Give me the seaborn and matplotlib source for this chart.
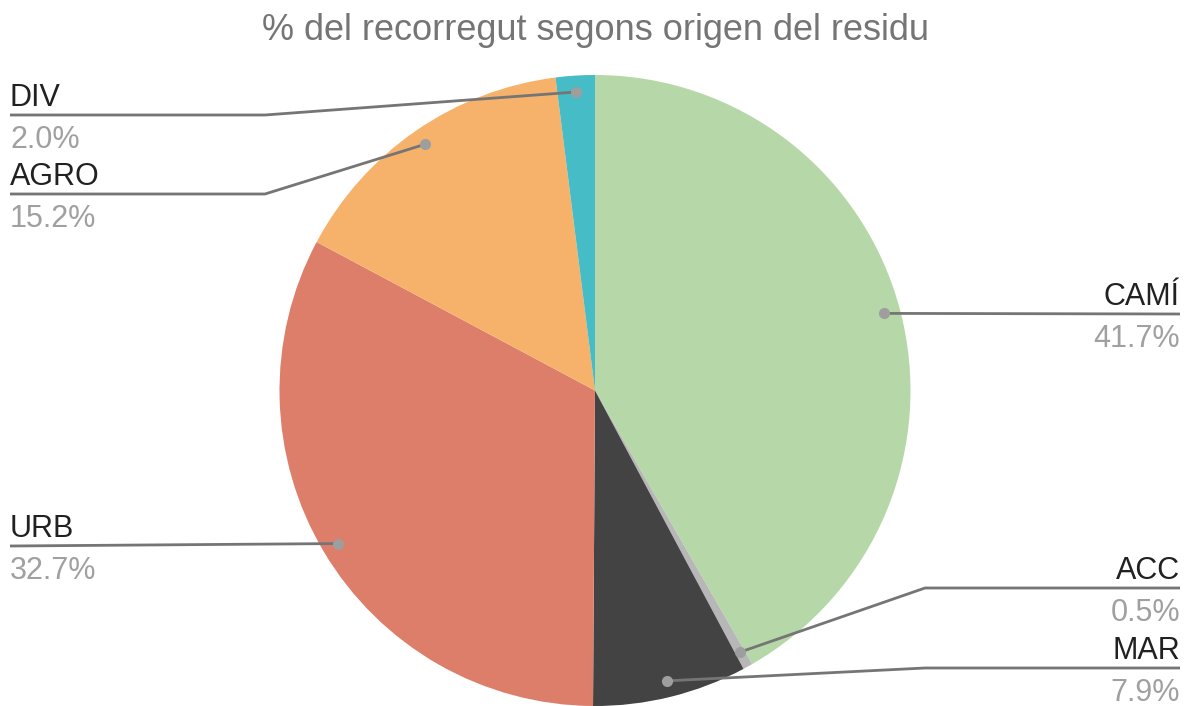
import matplotlib.pyplot as plt
import numpy as np
import seaborn as sns

# dados do grafico
categorias = ['CAMÍ', 'ACC', 'MAR', 'URB', 'AGRO', 'DIV']
percentuais = [41.7, 0.5, 7.9, 32.7, 15.2, 2.0]
cores = ['#b6d7a8', '#b7b7b7', '#434343', '#dd7e6b', '#f6b26b', '#46bdc6']
titulo = '% del recorregut segons origen del residu'

sns.set_theme(style='white')
plt.rcParams['font.family'] = ['Liberation Sans', 'DejaVu Sans']

W, H = 1185, 706
fig = plt.figure(figsize=(W / 100, H / 100), dpi=100)
ax = fig.add_axes([0, 0, 1, 1])

cx, cy, r = 595, H - 390.5, 315.5
wedges, _ = ax.pie(percentuais, colors=cores, startangle=90, counterclock=False,
                   center=(cx, cy), radius=r, wedgeprops=dict(linewidth=0),
                   frame=True)
ax.set_xlim(0, W)
ax.set_ylim(0, H)
ax.set_aspect('equal')
ax.axis('off')

# posicao das etiquetas: (y da linha em px, lado, x do cotovelo)
layout = {
    'CAMÍ': (314, 'right', None),
    'ACC': (588, 'right', 925),
    'MAR': (668, 'right', 925),
    'URB': (546, 'left', None),
    'AGRO': (194, 'left', 265),
    'DIV': (115, 'left', 265),
}

for w, nome, p in zip(wedges, categorias, percentuais):
    ang = np.deg2rad((w.theta1 + w.theta2) / 2)
    px = cx + 0.948 * r * np.cos(ang)
    py = cy + 0.948 * r * np.sin(ang)
    ly, lado, cotovelo = layout[nome]
    ly = H - ly
    xfim = 1180 if lado == 'right' else 10
    if cotovelo is None:
        xs, ys = [px, xfim], [py, ly]
    else:
        xs, ys = [px, cotovelo, xfim], [py, ly, ly]
    ax.plot(xs, ys, color='#757575', lw=2, solid_capstyle='butt', zorder=3)
    ax.plot(px, py, 'o', color='#9e9e9e', ms=7, zorder=4)
    ax.text(xfim, ly + 9, nome, ha=lado, va='baseline', fontsize=22, color='#212121')
    ax.text(xfim, ly - 33, f'{p:.1f}%', ha=lado, va='baseline', fontsize=22, color='#a0a0a0')

ax.text(596, H - 40, titulo, ha='center', va='baseline', fontsize=26, color='#757575')

plt.savefig('out.png', dpi=100)
